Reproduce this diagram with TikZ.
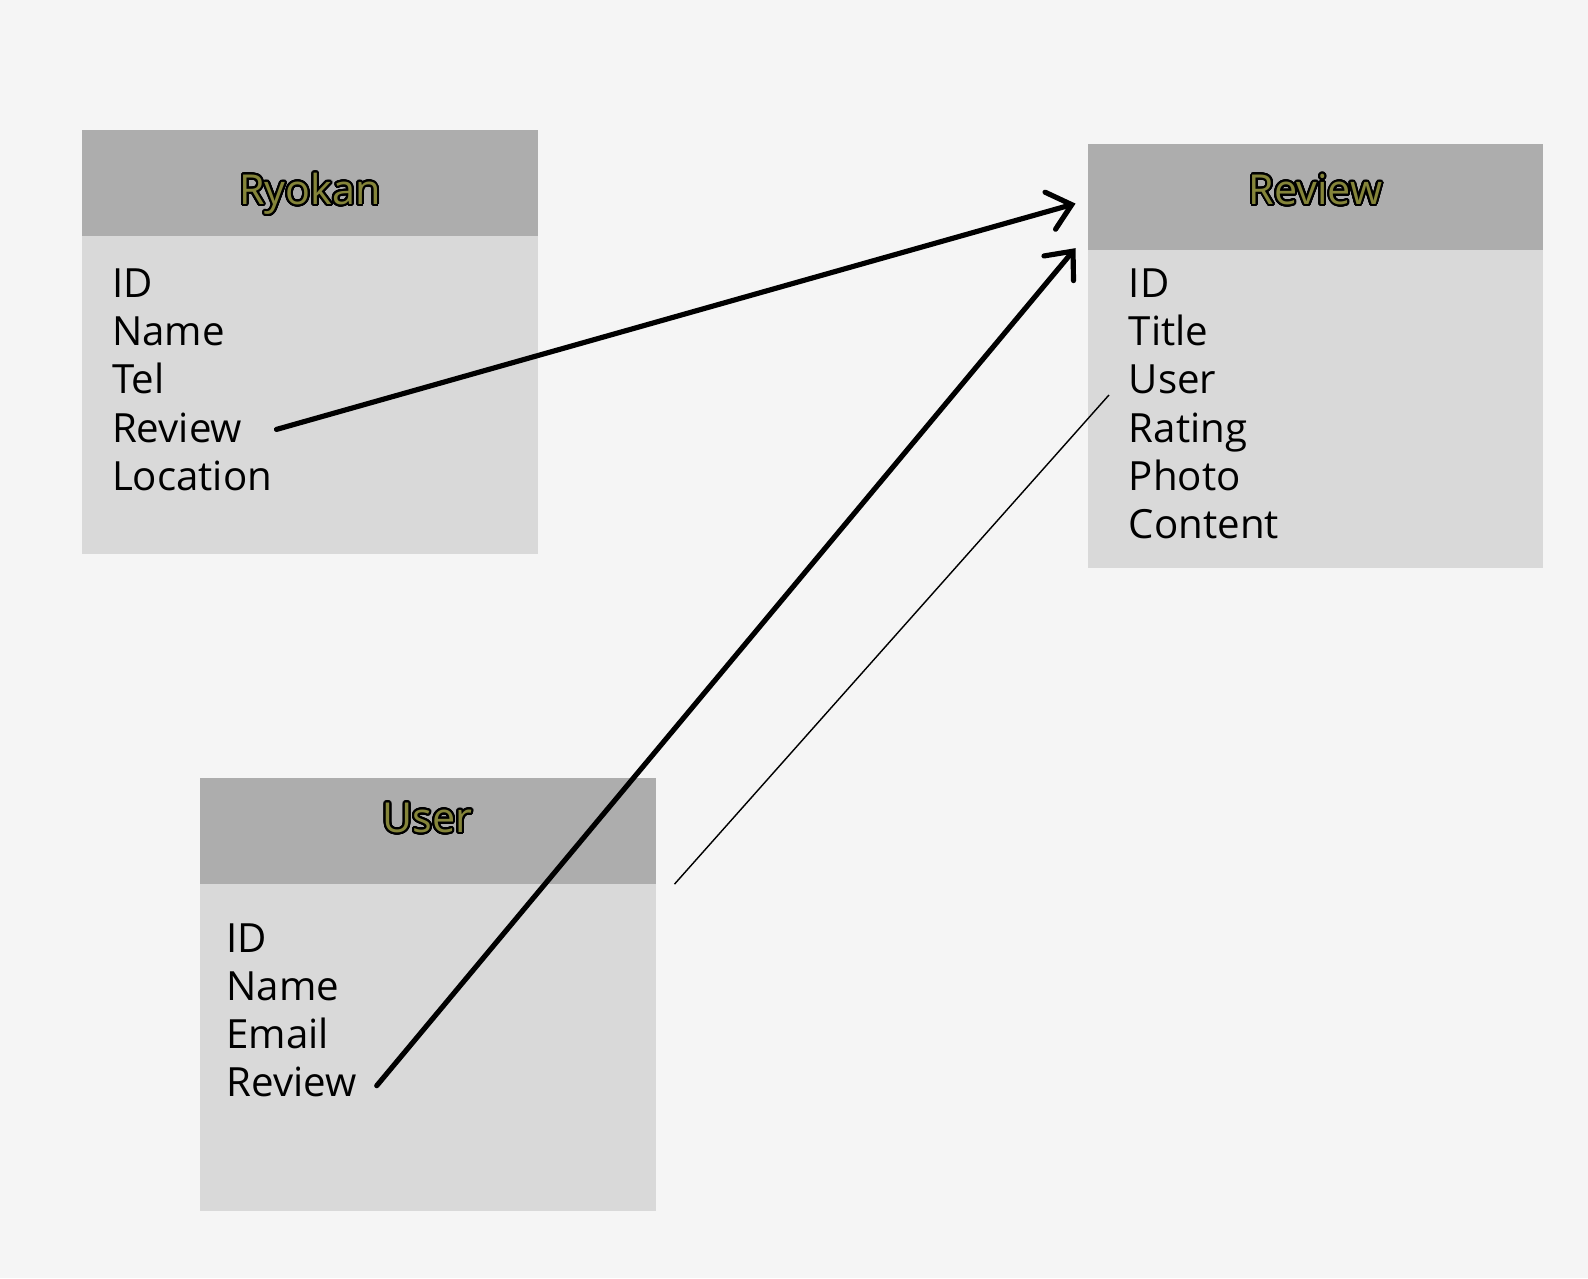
\documentclass[tikz,border=0pt]{standalone}
\usepackage{fontspec}
\setmainfont{Open Sans}
\usepackage[copies]{contour}
\usetikzlibrary{arrows.meta}
\contourlength{0.55pt}
\contournumber{32}

\definecolor{pagebg}{HTML}{F5F5F5}
\definecolor{headgray}{HTML}{ADADAD}
\definecolor{bodygray}{HTML}{D9D9D9}
\definecolor{titleolive}{RGB}{133,133,58}

\tikzset{
	head/.style={fill=headgray},
	body/.style={fill=bodygray},
	title/.style={font=\fontsize{11.6}{13}\selectfont, anchor=base, inner sep=0pt},
	field/.style={font=\fontsize{11.3}{13}\selectfont, anchor=base west, inner sep=0pt},
	link/.style={line width=1.45pt, line cap=round, -{Straight Barb[length=2.2mm,width=3.8mm,line cap=round]}},
	thinlink/.style={line width=0.4pt}
}
\newcommand{\tabletitle}[1]{\contour{black}{\textcolor{titleolive}{#1}}}

\begin{document}
\begin{tikzpicture}[x=0.1mm,y=-0.1mm]
	\useasboundingbox (0,0) rectangle (1568,1262);
	\fill[pagebg] (0,0) rectangle (1568,1262);

	% tables
	\fill[head] (81,128) rectangle (531,233);
	\fill[body] (81,233) rectangle (531,547);
	\fill[head] (1074,142) rectangle (1524,247);
	\fill[body] (1074,247) rectangle (1524,561);
	\fill[head] (197,768) rectangle (648,873);
	\fill[body] (197,873) rectangle (648,1196);

	\node[title] (ryokan) at (306,202) {\tabletitle{Ryokan}};
	\node[title] (review) at (1299,202) {\tabletitle{Review}};
	\node[title] (user) at (422,822) {\tabletitle{User}};

	\foreach \t [count=\i] in {ID,Name,Tel,Review,Location}
		\node[field] (ryokan-\i) at (110,{294+47.5*(\i-1)}) {\t};
	\foreach \t [count=\i] in {ID,Title,User,Rating,Photo,Content}
		\node[field] (review-\i) at (1114,{294+47.5*(\i-1)}) {\t};
	\foreach \t [count=\i] in {ID,Name,Email,Review}
		\node[field] (user-\i) at (223,{940+47.5*(\i-1)}) {\t};

	% connectors
	\coordinate (ryokan-out) at (273,424);
	\coordinate (user-out) at (372,1072);
	\coordinate (review-in1) at (1062,201);
	\coordinate (review-in2) at (1062,245);
	\coordinate (review-user) at (1095,390);
	\coordinate (user-corner) at (666,873);

	\draw[link] (ryokan-out) -- (review-in1);
	\draw[link] (user-out) -- (review-in2);
	\draw[thinlink] (review-user) -- (user-corner);
\end{tikzpicture}
\end{document}
